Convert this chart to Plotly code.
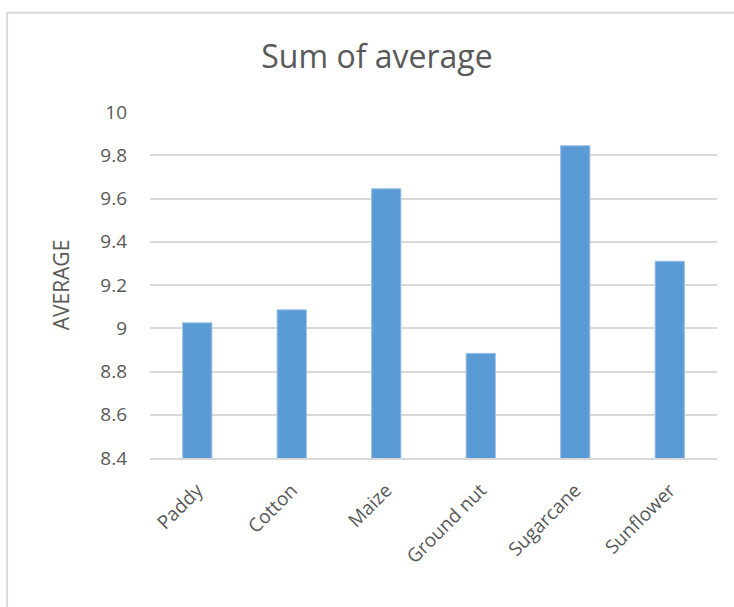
import plotly.graph_objects as go

# Crop averages
crops = ["Paddy", "Cotton", "Maize", "Ground nut", "Sugarcane", "Sunflower"]
average = [9.025, 9.085, 9.645, 8.884, 9.844, 9.31]

# Value axis ticks
y_ticks = [8.4, 8.6, 8.8, 9.0, 9.2, 9.4, 9.6, 9.8, 10.0]
y_tick_labels = ["8.4", "8.6", "8.8", "9", "9.2", "9.4", "9.6", "9.8", "10"]

text_color = "#595959"
grid_color = "#d9d9d9"
font_family = "Open Sans, Liberation Sans, sans-serif"

fig = go.Figure(
    go.Bar(
        x=crops,
        y=average,
        marker=dict(color="#5b9bd5", line=dict(color="#9dc3e6", width=1)),
        hoverinfo="x+y",
    )
)

fig.update_layout(
    width=734,
    height=607,
    margin=dict(l=150, r=17, t=112, b=149),
    paper_bgcolor="white",
    plot_bgcolor="white",
    bargap=0.69,
    showlegend=False,
    font=dict(family=font_family, color=text_color),
    title=dict(
        text="Sum of average",
        x=(377 / 734),
        xanchor="center",
        y=1 - 57 / 607,
        yanchor="middle",
        font=dict(size=32, color=text_color, family=font_family),
    ),
    shapes=[
        # chart area frame
        dict(
            type="rect",
            xref="paper",
            yref="paper",
            x0=-0.252,
            x1=1.06,
            y0=-0.6,
            y1=1.287,
            line=dict(color="#d9d9d9", width=2),
            fillcolor="rgba(0,0,0,0)",
            layer="below",
        )
    ],
)

fig.update_yaxes(
    range=[8.4, 10.0],
    tickvals=y_ticks,
    ticktext=y_tick_labels,
    showgrid=True,
    gridcolor=grid_color,
    gridwidth=1.5,
    zeroline=False,
    showline=False,
    ticks="",
    ticklabelstandoff=22,
    tickfont=dict(size=19, color=text_color),
    title=dict(text="AVERAGE", font=dict(size=21, color=text_color), standoff=24),
)

fig.update_xaxes(
    showgrid=False,
    showline=True,
    linecolor=grid_color,
    linewidth=1.5,
    ticks="",
    tickangle=-45,
    ticklabelstandoff=12,
    tickfont=dict(size=19, color=text_color),
)

fig.write_html("out.html")
